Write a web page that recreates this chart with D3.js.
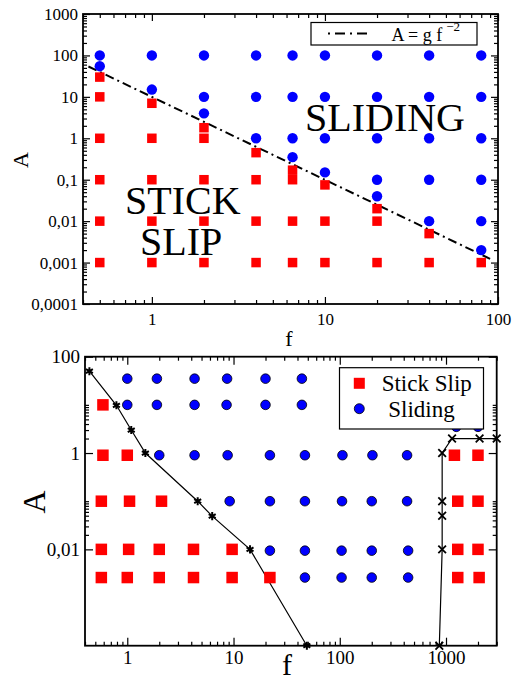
<!DOCTYPE html>
<html>
<head>
<meta charset="utf-8">
<script src="https://cdn.jsdelivr.net/npm/d3@7"></script>
<style>
  body { margin: 0; background: #fff; }
  svg text { font-family: "Liberation Serif", "DejaVu Serif", serif !important; }
</style>
</head>
<body>
<div id="chart"></div>
<script>
(function () {
"use strict";

// ---------------------------------------------------------------------------
// Data
// ---------------------------------------------------------------------------

// top panel: [f, A]
var topSliding = [
  [0.5, 100], [0.5, 55],
  [1, 100], [1, 15],
  [2, 100], [2, 10], [2, 4],
  [4, 100], [4, 10], [4, 1],
  [6.5, 100], [6.5, 10], [6.5, 1], [6.5, 0.35],
  [10, 100], [10, 10], [10, 1], [10, 0.15],
  [20, 100], [20, 10], [20, 1], [20, 0.1], [20, 0.04],
  [40, 100], [40, 10], [40, 1], [40, 0.1], [40, 0.01],
  [80, 100], [80, 10], [80, 1], [80, 0.1], [80, 0.01], [80, 0.002]
];
var topStickSlip = [
  [0.5, 30], [0.5, 10], [0.5, 1], [0.5, 0.1], [0.5, 0.01], [0.5, 0.001],
  [1, 7], [1, 1], [1, 0.1], [1, 0.01], [1, 0.001],
  [2, 1.8], [2, 1], [2, 0.1], [2, 0.01], [2, 0.001],
  [4, 0.45], [4, 0.1], [4, 0.01], [4, 0.001],
  [6.5, 0.17], [6.5, 0.1], [6.5, 0.01], [6.5, 0.001],
  [10, 0.075], [10, 0.01], [10, 0.001],
  [20, 0.02], [20, 0.01], [20, 0.001],
  [40, 0.005], [40, 0.001],
  [80, 0.001]
];
// A = g f^-2 line, end points
var topFitLine = [[0.43, 54], [90, 0.00123]];

var topXTicks = [1, 10, 100];
var topXLabels = ["1", "10", "100"];
var topYTicks = [1e-4, 1e-3, 1e-2, 1e-1, 1, 10, 100, 1000];
var topYLabels = ["0,0001", "0,001", "0,01", "0,1", "1", "10", "100", "1000"];

// bottom panel: [f, A]
var botStickSlip = [
  [0.59, 10],
  [0.59, 0.9], [1.0, 0.9], [1200, 0.9], [2000, 0.9],
  [0.57, 0.1], [1.05, 0.1], [2.1, 0.1], [1290, 0.1], [2000, 0.1],
  [0.57, 0.01], [1.03, 0.01], [2.0, 0.01], [4.2, 0.01], [9.7, 0.01], [1290, 0.01], [2000, 0.01],
  [0.57, 0.0026], [1.0, 0.0026], [2.0, 0.0026], [4.2, 0.0026], [9.7, 0.0026], [22, 0.0026],
  [1290, 0.0026], [2050, 0.0026]
];
var botSliding = [
  [1, 35], [1.9, 35], [4.3, 35], [8.7, 35], [20, 35], [44, 35],
  [1, 10], [1.9, 10], [4.3, 10], [8.6, 10], [20, 10], [44, 10],
  [1250, 3.5], [2000, 3.5],
  [2, 0.9], [4.3, 0.9], [8.8, 0.9], [22, 0.9], [47, 0.9], [106, 0.9], [203, 0.9], [430, 0.9],
  [9.2, 0.1], [22, 0.1], [47, 0.1], [105, 0.1], [200, 0.1], [430, 0.1],
  [22, 0.0094], [47, 0.0094], [104, 0.0094], [200, 0.0094], [440, 0.0094],
  [47, 0.0026], [104, 0.0026], [200, 0.0026], [440, 0.0026]
];
var botLeftBoundary = [
  [0.44, 50], [0.79, 9.8], [1.09, 3], [1.48, 1],
  [4.6, 0.1], [6.3, 0.049], [14.3, 0.01], [49, 0.0001]
];
var botRightBoundary = [
  [865, 0.0001], [920, 0.01], [920, 0.05], [920, 0.1], [920, 1],
  [1140, 2], [2070, 2], [3000, 2]
];

var botXTicks = [1, 10, 100, 1000];
var botXLabels = ["1", "10", "100", "1000"];
var botYTicks = [0.01, 1, 100];
var botYLabels = ["0,01", "1", "100"];

// ---------------------------------------------------------------------------

var BLUE = "#0000ff", RED = "#ff0000";
var FONT = "Liberation Serif, DejaVu Serif, serif";

var svg = d3.select("#chart").append("svg")
  .attr("width", 519)
  .attr("height", 683)
  .attr("viewBox", "0 0 519 683")
  .style("font-family", FONT);

// minor ticks 2..9 in every decade inside a domain
function decadeMinors(lo, hi) {
  var out = [];
  for (var e = Math.floor(Math.log10(lo)); e <= Math.ceil(Math.log10(hi)); e++) {
    for (var k = 2; k <= 9; k++) {
      var v = k * Math.pow(10, e);
      if (v >= lo * 0.999 && v <= hi * 1.001) out.push(v);
    }
  }
  return out;
}

function addAxis(g, axisFn, scale, transform, values, size, labels, fontSize, pad) {
  var a = axisFn(scale)
    .tickValues(values)
    .tickSizeInner(-size)
    .tickSizeOuter(0)
    .tickPadding(pad)
    .tickFormat(labels ? function(d, i) { return labels[i]; } : function() { return ""; });
  var ag = g.append("g").attr("transform", transform).call(a);
  ag.attr("font-family", null);
  ag.select(".domain").remove();
  ag.selectAll("line").attr("stroke", "#000").attr("stroke-width", 1.2);
  ag.selectAll("text")
    .style("font-family", FONT)
    .attr("font-size", fontSize)
    .attr("fill", "#000");
}

function makePanel(p) {
  var x = d3.scaleLog().domain(p.xDomain).range([p.left, p.right]);
  var y = d3.scaleLog().domain(p.yDomain).range([p.bottom, p.top]);
  var g = svg.append("g");
  var w = p.right - p.left, h = p.bottom - p.top;

  // major
  addAxis(g, d3.axisBottom, x, "translate(0," + p.bottom + ")", p.xTicks, p.majorLen, p.xLabels, p.tickFont, p.xPad);
  addAxis(g, d3.axisTop, x, "translate(0," + p.top + ")", p.xTicks, p.majorLen, null, p.tickFont, 0);
  addAxis(g, d3.axisLeft, y, "translate(" + p.left + ",0)", p.yTicks, p.majorLen, p.yLabels, p.tickFont, p.yPad);
  addAxis(g, d3.axisRight, y, "translate(" + p.right + ",0)", p.yTicks, p.majorLen, null, p.tickFont, 0);
  // minor
  addAxis(g, d3.axisBottom, x, "translate(0," + p.bottom + ")", p.xMinor, p.minorLen, null, p.tickFont, 0);
  addAxis(g, d3.axisTop, x, "translate(0," + p.top + ")", p.xMinor, p.minorLen, null, p.tickFont, 0);
  addAxis(g, d3.axisLeft, y, "translate(" + p.left + ",0)", p.yMinor, p.minorLen, null, p.tickFont, 0);
  addAxis(g, d3.axisRight, y, "translate(" + p.right + ",0)", p.yMinor, p.minorLen, null, p.tickFont, 0);

  g.append("rect")
    .attr("x", p.left).attr("y", p.top)
    .attr("width", w).attr("height", h)
    .attr("fill", "none")
    .attr("stroke", "#000")
    .attr("stroke-width", 1.8);

  return { g: g, x: x, y: y };
}

function label(g, x, y, size, txt) {
  return g.append("text").attr("x", x).attr("y", y)
    .style("font-family", FONT).attr("font-size", size).text(txt);
}

////////////////////////////////////////////////////////////////////////////////
// Top panel
////////////////////////////////////////////////////////////////////////////////

var top = makePanel({
  left: 83, right: 498, top: 14, bottom: 304,
  xDomain: [0.4, 100], yDomain: [1e-4, 1e3],
  xTicks: topXTicks, xLabels: topXLabels,
  yTicks: topYTicks, yLabels: topYLabels,
  xMinor: decadeMinors(0.4, 100), yMinor: decadeMinors(1e-4, 1e3),
  majorLen: 7, minorLen: 4, tickFont: 17, xPad: 9, yPad: 5
});

var tg = top.g;

tg.append("path")
  .datum(topFitLine)
  .attr("d", d3.line().x(function(d) { return top.x(d[0]); }).y(function(d) { return top.y(d[1]); }))
  .attr("fill", "none")
  .attr("stroke", "#000")
  .attr("stroke-width", 2)
  .attr("stroke-dasharray", "9,4,2,4");

var sqTop = 9.5;
tg.append("g").selectAll("rect")
  .data(topStickSlip)
  .join("rect")
    .attr("x", function(d) { return top.x(d[0]) - sqTop / 2; })
    .attr("y", function(d) { return top.y(d[1]) - sqTop / 2; })
    .attr("width", sqTop)
    .attr("height", sqTop)
    .attr("fill", RED);

tg.append("g").selectAll("circle")
  .data(topSliding)
  .join("circle")
    .attr("cx", function(d) { return top.x(d[0]); })
    .attr("cy", function(d) { return top.y(d[1]); })
    .attr("r", 5.2)
    .attr("fill", BLUE);

// region labels
label(tg, 305, 131, 40, "SLIDING");
label(tg, 125, 214, 40, "STICK");
label(tg, 140, 255, 40, "SLIP");

// legend
tg.append("rect")
  .attr("x", 311).attr("y", 22.5).attr("width", 166).attr("height", 22.5)
  .attr("fill", "#fff").attr("stroke", "#000").attr("stroke-width", 1.2);
tg.append("line")
  .attr("x1", 328).attr("x2", 369).attr("y1", 33.5).attr("y2", 33.5)
  .attr("stroke", "#000").attr("stroke-width", 2)
  .attr("stroke-dasharray", "2,5,10,5");
var lt = label(tg, 391.5, 41, 18, null);
lt.append("tspan").text("A = g f");
lt.append("tspan").attr("dx", 4).attr("dy", -10).attr("font-size", 13).text("\u22122");

// axis titles
label(tg, 289, 346, 22, "f").attr("text-anchor", "middle");
label(tg, 0, 0, 22, "A")
  .attr("transform", "translate(28,160) rotate(-90)")
  .attr("text-anchor", "middle");

////////////////////////////////////////////////////////////////////////////////
// Bottom panel
////////////////////////////////////////////////////////////////////////////////

var botYMinor = [];
[0.01, 1].forEach(function(m) {
  for (var k = 2; k <= 10; k++) botYMinor.push(m * k);
});

var bot = makePanel({
  left: 85, right: 496.7, top: 356.7, bottom: 645.7,
  xDomain: [0.4, 3000], yDomain: [1e-4, 100],
  xTicks: botXTicks, xLabels: botXLabels,
  yTicks: botYTicks, yLabels: botYLabels,
  xMinor: decadeMinors(0.4, 3000), yMinor: botYMinor,
  majorLen: 8, minorLen: 4, tickFont: 19, xPad: 5, yPad: 5
});

var bg = bot.g;

var boundLine = d3.line()
  .x(function(d) { return bot.x(d[0]); })
  .y(function(d) { return bot.y(d[1]); });

[botLeftBoundary, botRightBoundary].forEach(function(b) {
  bg.append("path")
    .datum(b)
    .attr("d", boundLine)
    .attr("fill", "none")
    .attr("stroke", "#000")
    .attr("stroke-width", 1.2);
});

bg.append("g").selectAll("path")
  .data(botLeftBoundary)
  .join("path")
    .attr("transform", function(d) { return "translate(" + bot.x(d[0]) + "," + bot.y(d[1]) + ")"; })
    .attr("d", d3.symbol(d3.symbolAsterisk, 45))
    .attr("fill", "none")
    .attr("stroke", "#000")
    .attr("stroke-width", 2);

bg.append("g").selectAll("path")
  .data(botRightBoundary)
  .join("path")
    .attr("transform", function(d) { return "translate(" + bot.x(d[0]) + "," + bot.y(d[1]) + ")"; })
    .attr("d", d3.symbol(d3.symbolX, 40))
    .attr("fill", "none")
    .attr("stroke", "#000")
    .attr("stroke-width", 1.8);

var sqBot = 11.5;
bg.append("g").selectAll("rect")
  .data(botStickSlip)
  .join("rect")
    .attr("x", function(d) { return bot.x(d[0]) - sqBot / 2; })
    .attr("y", function(d) { return bot.y(d[1]) - sqBot / 2; })
    .attr("width", sqBot)
    .attr("height", sqBot)
    .attr("fill", RED);

bg.append("g").selectAll("circle")
  .data(botSliding)
  .join("circle")
    .attr("cx", function(d) { return bot.x(d[0]); })
    .attr("cy", function(d) { return bot.y(d[1]); })
    .attr("r", 4.8)
    .attr("fill", BLUE)
    .attr("stroke", "#000")
    .attr("stroke-width", 0.8);

// legend
bg.append("rect")
  .attr("x", 339.5).attr("y", 367.7).attr("width", 144).attr("height", 61.3)
  .attr("fill", "#fff").attr("stroke", "#000").attr("stroke-width", 1.2);
bg.append("rect")
  .attr("x", 359.3 - 5.5).attr("y", 383.3 - 5.5).attr("width", 11).attr("height", 11)
  .attr("fill", RED);
bg.append("circle")
  .attr("cx", 359.3).attr("cy", 408.7).attr("r", 5)
  .attr("fill", BLUE).attr("stroke", "#000").attr("stroke-width", 0.8);
label(bg, 381.7, 390.5, 23, "Stick Slip");
label(bg, 388.3, 417, 23, "Sliding");

// axis titles
label(bg, 287, 675, 30, "f").attr("text-anchor", "middle");
label(bg, 0, 0, 32, "A")
  .attr("transform", "translate(45,502) rotate(-90)")
  .attr("text-anchor", "middle");

})();
</script>
</body>
</html>
